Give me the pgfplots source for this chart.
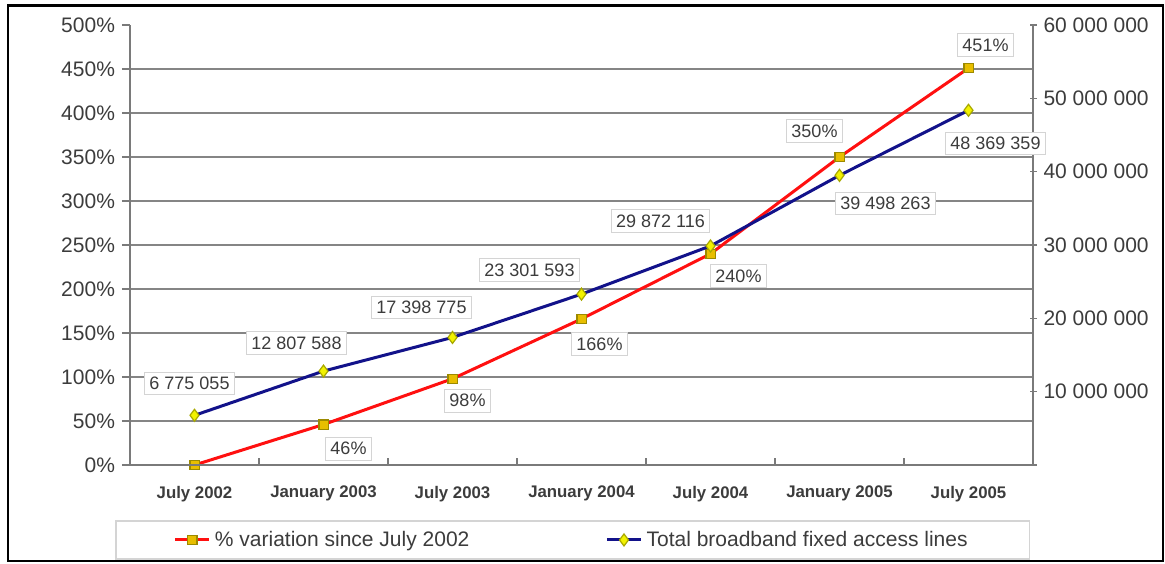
\documentclass[border=0pt]{standalone}
\usepackage{pgfplots}
\pgfplotsset{compat=1.18}
\usepackage{pgfplotstable}
\usepackage{fontspec}
\setmainfont{Liberation Sans}

\definecolor{tickgray}{HTML}{3C3C3C}
\definecolor{gridgray}{HTML}{858585}
\definecolor{axgray}{HTML}{7A7A7A}
\definecolor{redline}{HTML}{FF1010}
\definecolor{navyline}{HTML}{12128A}
\definecolor{sqfill}{HTML}{E8BE00}
\definecolor{sqdraw}{HTML}{9C8A00}
\definecolor{dmfill}{HTML}{F2F200}
\definecolor{dmdraw}{HTML}{A8A800}
\definecolor{lblborder}{HTML}{D4D4D4}

% red labels: % variation (left axis)
\pgfplotstableread[col sep=comma]{
x,y,dx,dy,lbl
1,46,12.5,-12,46\%
2,98,7.5,-11,98\%
3,166,9,-12.5,166\%
4,240,14,-11,240\%
5,350,-12.5,13,350\%
6,451,8.5,11.5,451\%
}\pct

% blue labels: total lines (right axis)
\pgfplotstableread[col sep=comma]{
x,y,dx,dy,lbl
0,6775055,-2.5,16,6 775 055
1,12807588,-13.5,14,12 807 588
2,17398775,-15.5,15,17 398 775
3,23301593,-26,12,23 301 593
4,29872116,-25,12.5,29 872 116
5,39498263,23,-14,39 498 263
6,48369359,13.5,-16.5,48 369 359
}\lines

\tikzset{
  lbl/.style={draw=lblborder, fill=white, inner sep=2.5pt, text=tickgray,
    font=\fontsize{9}{10}\selectfont, anchor=center},
}
\pgfplotsset{
  common/.style={at={(65pt,-232.5pt)}, anchor=south west, scale only axis,
    width=451.5pt, height=220pt, xmin=-0.5, xmax=6.5, clip=false,
    axis line style={axgray, line width=0.8pt, -},
    tick style={axgray, line width=0.8pt},
    tick label style={font=\fontsize{10.5}{12}\selectfont, text=tickgray}},
}

\begin{document}
\begin{tikzpicture}
\path[use as bounding box] (0,0) rectangle (582.5pt,-281.5pt);

\begin{axis}[common,
  ymin=0, ymax=500,
  axis x line*=bottom, axis y line*=left,
  xtick={0,...,6}, xtick style={draw=none},
  xticklabels={July 2002,January 2003,July 2003,January 2004,July 2004,January 2005,July 2005},
  xticklabel style={font=\bfseries\fontsize{8.4}{10}\selectfont, yshift=-7pt},
  ytick={0,50,...,450},
  yticklabels={0\%,50\%,100\%,150\%,200\%,250\%,300\%,350\%,400\%,450\%},
  extra y ticks={500}, extra y tick labels={500\%}, extra y tick style={grid=none},
  ymajorgrids, major grid style={gridgray, line width=1pt},
  ytick align=outside, major tick length=4pt,
  legend columns=2, legend cell align=left,
  legend style={at={(axis description cs:-0.0166,-0.125)}, anchor=north west,
    draw=lblborder, line width=0.8pt, inner xsep=29pt, inner ysep=3pt,
    font=\fontsize{10.5}{12}\selectfont, text=tickgray,
    /tikz/every even column/.append style={column sep=66pt}},
]
\addplot[redline, line width=1.5pt, mark=square*, mark size=2.3pt,
  mark options={fill=sqfill, draw=sqdraw, line width=0.6pt}]
  coordinates {(0,0) (1,46) (2,98) (3,166) (4,240) (5,350) (6,451)};
\addlegendentry{\% variation since July 2002}
\addlegendimage{navyline, line width=1.5pt, mark=diamond*, mark size=3pt,
  mark options={fill=dmfill, draw=dmdraw, line width=0.6pt}}
\addlegendentry{Total broadband fixed access lines}
\addplot[draw=none, no markers, forget plot, nodes near coords,
  point meta=explicit symbolic,
  visualization depends on={\thisrow{dx} \as \dx},
  visualization depends on={\thisrow{dy} \as \dy},
  every node near coord/.append style={lbl, xshift=\dx pt, yshift=\dy pt}]
  table[x=x, y=y, meta=lbl] {\pct};
\end{axis}

\begin{axis}[common,
  ymin=0, ymax=60000000,
  axis x line*=bottom, axis y line*=right,
  xtick={0.5,1.5,2.5,3.5,4.5,5.5}, xticklabels={,,,,,}, xtick align=inside,
  major tick length=3.5pt,
  ytick={0,10000000,20000000,30000000,40000000,50000000,60000000},
  yticklabels={,10 000 000,20 000 000,30 000 000,40 000 000,50 000 000,60 000 000},
  ytick align=center, scaled y ticks=false,
]
\addplot[navyline, line width=1.5pt, mark=diamond*, mark size=3pt,
  mark options={fill=dmfill, draw=dmdraw, line width=0.6pt}]
  coordinates {(0,6775055) (1,12807588) (2,17398775) (3,23301593)
    (4,29872116) (5,39498263) (6,48369359)};
\addplot[draw=none, no markers, nodes near coords,
  point meta=explicit symbolic,
  visualization depends on={\thisrow{dx} \as \dx},
  visualization depends on={\thisrow{dy} \as \dy},
  every node near coord/.append style={lbl, xshift=\dx pt, yshift=\dy pt}]
  table[x=x, y=y, meta=lbl] {\lines};
\end{axis}

\draw[black, line width=0.9pt] (4pt,-2.5pt) rectangle (581.5pt,-280.5pt);
\draw[black, line width=1.5pt] (4pt,-2.5pt) -- (581.5pt,-2.5pt);
\end{tikzpicture}
\end{document}
